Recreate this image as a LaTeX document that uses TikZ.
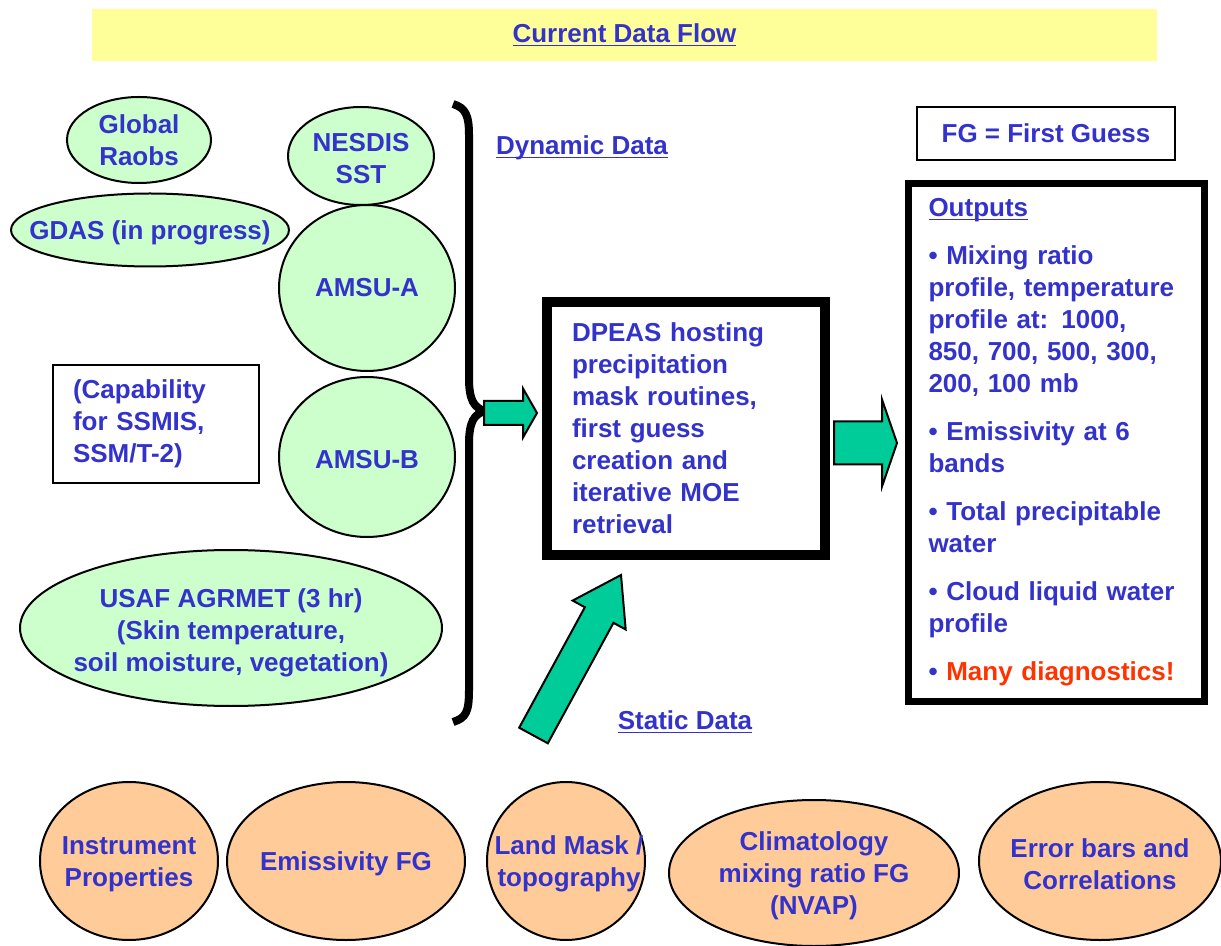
\documentclass[tikz,border=0pt]{standalone}
\usepackage{fontspec}
\setmainfont{Liberation Sans}
\usetikzlibrary{shapes.geometric, calc, positioning}

\definecolor{dblue}{RGB}{51,51,204}
\definecolor{dred}{RGB}{255,51,0}
\definecolor{lgreen}{RGB}{204,255,204}
\definecolor{lorange}{RGB}{255,204,153}
\definecolor{lyellow}{RGB}{255,255,153}
\definecolor{arrgreen}{RGB}{0,204,153}

\def\px{0.5pt}
\newcommand\ulined[1]{\setbox0\hbox{#1}\dp0=0pt \underline{\box0}}

\tikzset{
    txt/.style={font=\bfseries\fontsize{13}{16}\selectfont, text=dblue, align=center},
    gell/.style 2 args={ellipse, draw, line width=1pt, fill=lgreen, inner sep=0pt,
        minimum width=#1*\px, minimum height=#2*\px},
    oell/.style 2 args={ellipse, draw, line width=1pt, fill=lorange, inner sep=0pt,
        minimum width=#1*\px, minimum height=#2*\px},
    blockarr/.style={draw, line width=1pt, fill=arrgreen, line join=miter},
    every label/.style={txt, yshift=-1.5pt},
}

% fat arrow from #1 to #2: shaft half width, head half width, head length
\newcommand\blockarrow[5]{%
    \coordinate (ha) at ($(#2)!#5!(#1)$);
    \draw[blockarr] ($(#1)!#3!90:(#2)$) -- ($(ha)!#3!90:(#2)$) -- ($(ha)!#4!90:(#2)$) -- (#2)
        -- ($(ha)!#4!-90:(#2)$) -- ($(ha)!#3!-90:(#2)$) -- ($(#1)!#3!-90:(#2)$) -- cycle;
}

\begin{document}
\begin{tikzpicture}[x=\px, y=-\px]
    \useasboundingbox (0,0) rectangle (1221,946);

    \node[fill=lyellow, minimum width=1065*\px, minimum height=52*\px, txt] (title) at (624.5,35) {\ulined{Current Data Flow}};

    % dynamic data
    \node[gell={144}{86}, label={[yshift=1.5pt]center:{Global\\Raobs}}] (raobs) at (139,140) {};
    \node[gell={278}{73}, label={center:{GDAS (in progress)}}] (gdas) at (150,230) {};
    \node[gell={146}{98}, label={center:{NESDIS\\SST}}] (sst) at (361,156) {};
    \node[gell={176}{166}, label={[yshift=1.5pt]center:{AMSU-A}}] (amsua) at (367,288) {};
    \node[gell={176}{160}, label={center:{AMSU-B}}] (amsub) at (367,457) {};
    \node[gell={422}{156}, label={[yshift=-1pt]center:{USAF AGRMET (3 hr)\\(Skin temperature,\\soil moisture, vegetation)}}] (agrmet) at (231,628) {};
    \node[draw, line width=1pt, minimum width=206*\px, minimum height=118*\px, txt, align=left,
        text width=83pt, inner xsep=10pt] (capab) at (156,424) {(Capability\\for SSMIS,\\SSM/T-2)};

    \draw[line width=4pt] (453,104) .. controls (466,108) and (469,116) .. (469,135) -- (469,378)
        .. controls (469,400) and (474,408) .. (485,411) .. controls (474,414) and (469,422) .. (469,444)
        -- (469,690) .. controls (469,712) and (466,718) .. (453,722);
    \node[txt] (dynamic) at (582,147) {\ulined{Dynamic Data}};

    \node[draw, line width=5pt, minimum width=278*\px, minimum height=253*\px, txt, align=left,
        text width=114pt, inner xsep=12.5pt] (dpeas) at (686,428.5)
        {DPEAS hosting\\precipitation\\mask routines,\\first guess\\creation and\\iterative MOE\\retrieval};

    \node[draw, line width=1pt, minimum width=258*\px, minimum height=53*\px, txt] (fg) at (1046,133.5) {FG = First Guess};
    \node[draw, line width=3.5pt, minimum width=296*\px, minimum height=518*\px, txt, align=left,
        text width=128pt, inner xsep=10pt] (outputs) at (1056.5,442.5)
        {\ulined{Outputs}\\[8pt]
         • Mixing ratio\\profile, temperature\\profile at: 1000,\\850, 700, 500, 300,\\200, 100 mb\\[8pt]
         • Emissivity at 6\\bands\\[8pt]
         • Total precipitable\\water\\[8pt]
         • Cloud liquid water\\profile\\[8pt]
         • {\color{dred}Many diagnostics!}};

    % arrows
    \coordinate (brace) at (484,413);
    \coordinate (dpeas in) at (537,413);
    \coordinate (dpeas out) at (834,443);
    \coordinate (outputs in) at (897,443);
    \coordinate (static base) at (533.5,735.5);
    \coordinate (static tip) at (621,575);
    \blockarrow{brace}{dpeas in}{6pt}{12.25pt}{7pt}
    \blockarrow{dpeas out}{outputs in}{10.75pt}{21.75pt}{7.5pt}
    \blockarrow{static base}{static tip}{8.15pt}{15.1pt}{22.8pt}
    \node[txt] (static) at (685,722) {\ulined{Static Data}};

    % static data
    \node[oell={178}{158}, label={center:{Instrument\\Properties}}] (instr) at (129,861) {};
    \node[oell={238}{158}, label={center:{Emissivity FG}}] (emis) at (346,861) {};
    \node[oell={158}{158}, label={[xshift=1.5pt]center:{Land Mask /\\topography}}] (land) at (566,861) {};
    \node[oell={290}{146}, label={center:{Climatology\\mixing ratio FG\\(NVAP)}}] (clim) at (814,873) {};
    \node[oell={242}{158}, label={center:{Error bars and\\Correlations}}] (errors) at (1100,861) {};
\end{tikzpicture}
\end{document}
